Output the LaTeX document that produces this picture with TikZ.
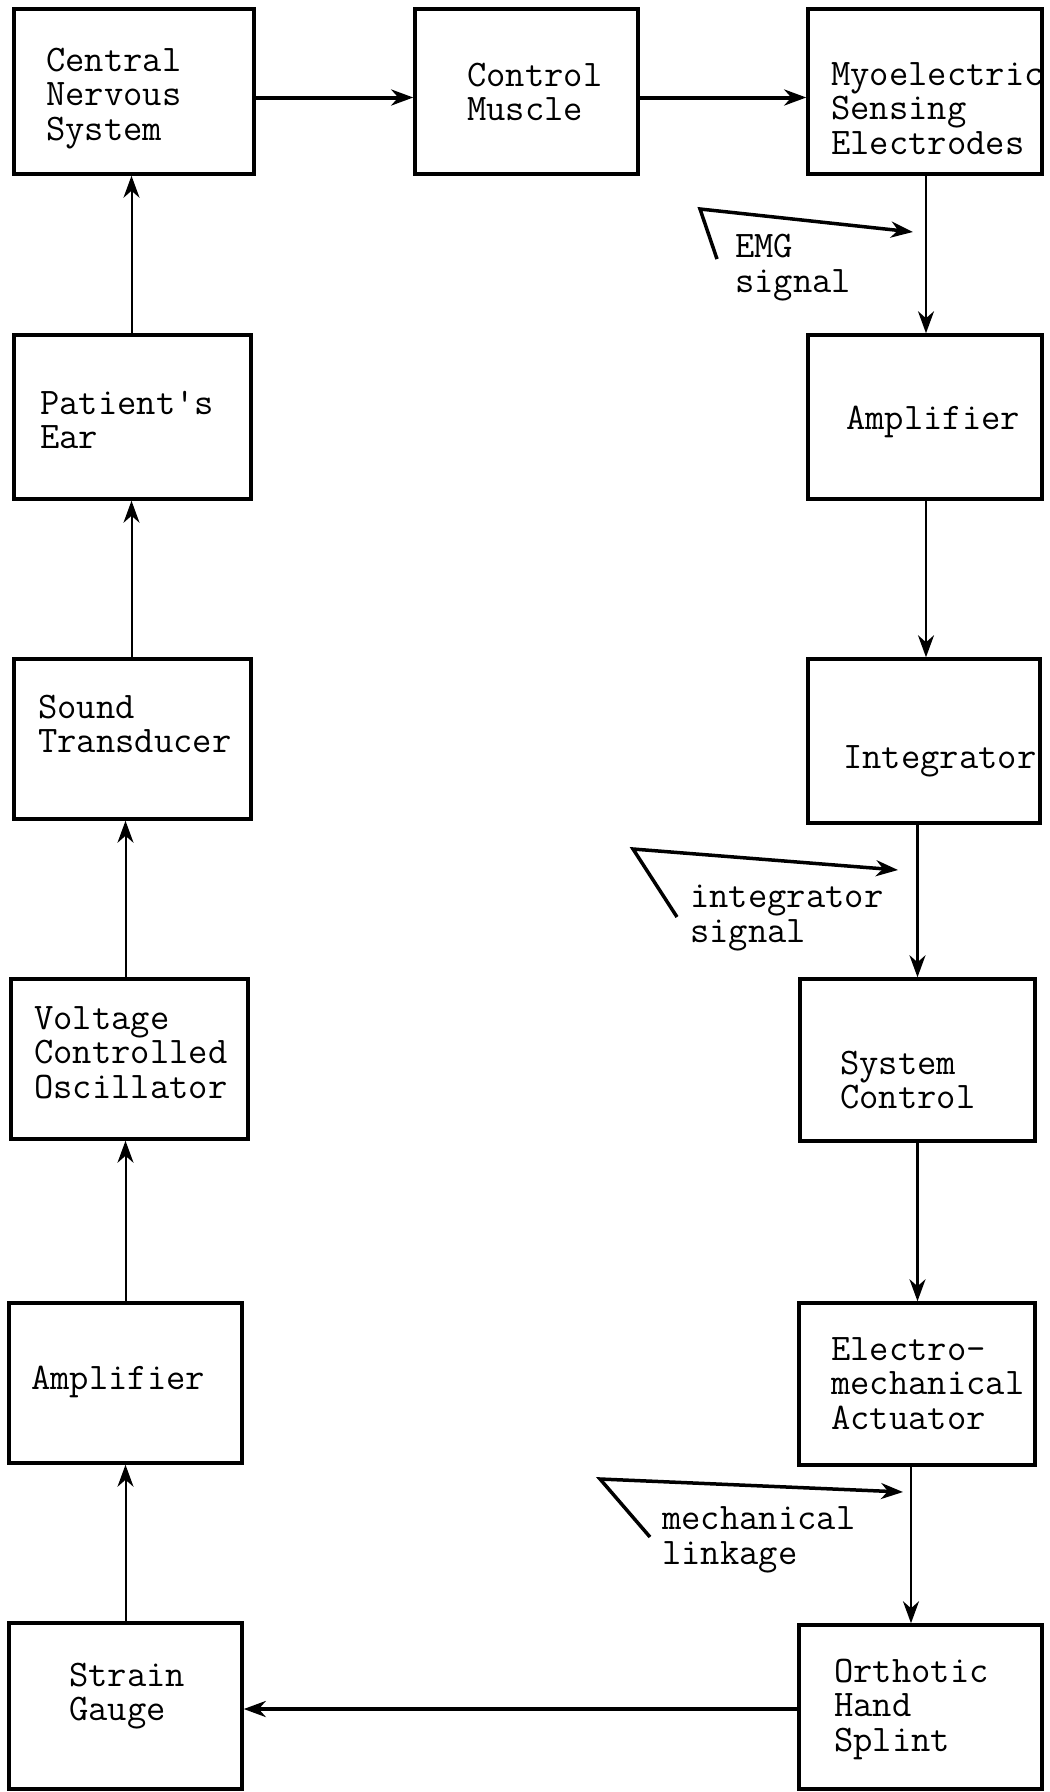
\documentclass[tikz,border=0pt]{standalone}
\usetikzlibrary{arrows.meta}
\begin{document}
\begin{tikzpicture}[x=1pt,y=-1pt,
  box/.style={draw, line width=3.5pt, inner sep=0pt},
  lbl/.style={font=\ttfamily\fontsize{37.5}{34.5}\selectfont, align=left, anchor=base west, inner sep=0pt},
  conn/.style={line width=2.5pt, -{Stealth[length=22pt,width=16pt,inset=7pt]}},
  thickconn/.style={conn, line width=4pt},
  thinconn/.style={conn, line width=2pt},
  ptr/.style={line width=3.5pt, line join=miter, -{Stealth[length=22pt,width=16pt,inset=7pt]}}]
\useasboundingbox (0,0) rectangle (1050,1792);
% boxes
\node[box, minimum width=240, minimum height=165] (cns)   at (134,91.5) {};
\node[box, minimum width=223, minimum height=165] (cm)    at (526.5,91.5) {};
\node[box, minimum width=234, minimum height=165] (myo)   at (925,91.5) {};
\node[box, minimum width=234, minimum height=164] (ampr)  at (925,417) {};
\node[box, minimum width=232, minimum height=164] (integ) at (924,741) {};
\node[box, minimum width=235, minimum height=162] (sysc)  at (917.5,1060) {};
\node[box, minimum width=236, minimum height=162] (ema)   at (917,1384) {};
\node[box, minimum width=243, minimum height=164] (ohs)   at (920.5,1707) {};
\node[box, minimum width=233, minimum height=166] (sg)    at (125.5,1706) {};
\node[box, minimum width=233, minimum height=160] (ampl)  at (125.5,1383) {};
\node[box, minimum width=237, minimum height=160] (vco)   at (129.5,1059) {};
\node[box, minimum width=237, minimum height=160] (st)    at (132.5,739) {};
\node[box, minimum width=237, minimum height=164] (pe)    at (132.5,417) {};
% texts (anchor = baseline of last line)
\node[lbl] (cnsT)   at (46,140)   {Central\\Nervous\\System};
\node[lbl] (cmT)    at (467,120.5) {Control\\Muscle};
\node[lbl] (myoT)   at (831,154)  {Myoelectric\\Sensing\\Electrodes};
\node[lbl] (amprT)  at (846,429)  {Amplifier};
\node[lbl] (integT) at (843,768)  {Integrator};
\node[lbl] (syscT)  at (840,1108.5) {System\\Control};
\node[lbl] (emaT)   at (831,1429) {Electro-\\mechanical\\Actuator};
\node[lbl] (ohsT)   at (834,1751) {Orthotic\\Hand\\Splint};
\node[lbl] (sgT)    at (69,1720.5) {Strain\\Gauge};
\node[lbl] (amplT)  at (31,1389)  {Amplifier};
\node[lbl] (vcoT)   at (34,1098)  {Voltage\\Controlled\\Oscillator};
\node[lbl] (stT)    at (38,752.5) {Sound\\Transducer};
\node[lbl] (peT)    at (40,448.5) {Patient's\\Ear};
\node[lbl] (emgT)   at (735,292)  {EMG\\signal};
\node[lbl] (intsT)  at (690,942)  {integrator\\signal};
\node[lbl] (mechT)  at (662,1564) {mechanical\\linkage};
% connectors
\draw[thickconn] ([yshift=-6]cns.east) -- ([yshift=-6]cm.west);
\draw[thickconn] ([yshift=-6]cm.east) -- ([yshift=-6]myo.west);
\draw[conn] ([xshift=1]myo.south) -- ([xshift=1]myo.south |- ampr.north);
\draw[conn] ([xshift=1]ampr.south) -- ([xshift=1]ampr.south |- integ.north);
\draw[conn] (integ.south -| sysc.north) -- (sysc.north);
\draw[conn] (sysc.south) -- (sysc.south |- ema.north);
\draw[conn] ([xshift=-6]ema.south) -- ([xshift=-6]ema.south |- ohs.north);
\draw[thickconn] ([yshift=-2]ohs.west) -- ([yshift=-2]ohs.west -| sg.east);
\draw[thinconn] (sg.north) -- (sg.north |- ampl.south);
\draw[thinconn] (ampl.north) -- (ampl.north |- vco.south);
\draw[thinconn] (ampl.north |- vco.north) -- (ampl.north |- st.south);
\draw[thinconn] ([xshift=-1]st.north) -- ([xshift=-1]st.north |- pe.south);
\draw[thinconn] ([xshift=-1]pe.north) -- ([xshift=-1]pe.north |- cns.south);
% pointer arrows
\coordinate (emgA) at (717,259); \coordinate (emgB) at (700,209); \coordinate (emgC) at (913,232);
\draw[ptr] (emgA) -- (emgB) -- (emgC);
\coordinate (intA) at (677,917); \coordinate (intB) at (633,849); \coordinate (intC) at (898,870);
\draw[ptr] (intA) -- (intB) -- (intC);
\coordinate (mecA) at (650,1537); \coordinate (mecB) at (600,1479); \coordinate (mecC) at (903,1492);
\draw[ptr] (mecA) -- (mecB) -- (mecC);
\end{tikzpicture}
\end{document}
